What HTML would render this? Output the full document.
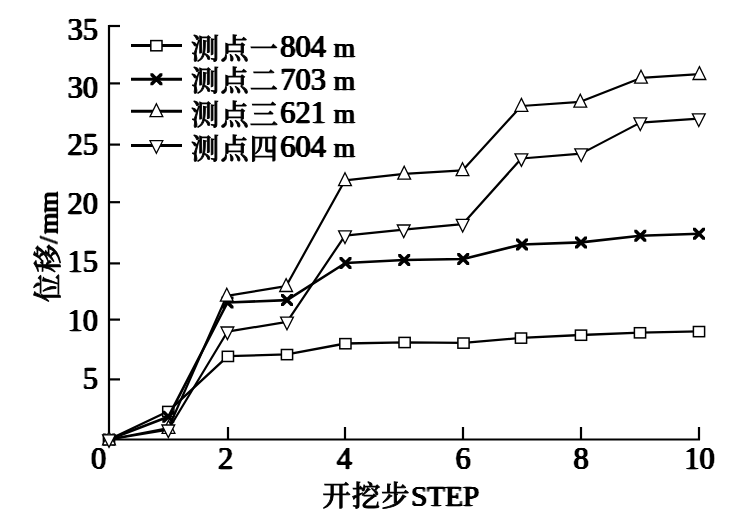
<!DOCTYPE html>
<html lang="zh"><head><meta charset="utf-8"><title>位移-开挖步</title>
<style>
html,body{margin:0;padding:0;background:#fff}
svg{display:block}
text{font-family:"Liberation Serif","Noto Serif CJK SC",serif;font-weight:normal;fill:#000;stroke:#000;stroke-width:0.3px;stroke-linejoin:miter;filter:url(#eb)}
.cj{font-family:"Liberation Serif","Noto Serif CJK SC",serif;font-weight:500;stroke-width:0.9px;filter:none;letter-spacing:1.2px}
</style></head><body>
<svg width="754" height="520" viewBox="0 0 754 520">
<defs><filter id="eb" x="-5%" y="-5%" width="110%" height="110%" color-interpolation-filters="sRGB"><feGaussianBlur in="SourceGraphic" stdDeviation="0.9 0.3"/><feComponentTransfer><feFuncA type="linear" slope="2.6" intercept="-0.35"/></feComponentTransfer></filter></defs>
<rect width="754" height="520" fill="#fff"/>
<g stroke="#000" stroke-width="2.2" fill="none" stroke-linecap="butt">
<path d="M109 25V440.5"/>
<path d="M108 439.5H700"/>
<path d="M109 26H120"/>
<path d="M109 83.4H120"/>
<path d="M109 144.6H120"/>
<path d="M109 202.2H120"/>
<path d="M109 263.4H120"/>
<path d="M109 319.6H120"/>
<path d="M109 379.4H120"/>
<path d="M228 440V427"/>
<path d="M345 440V427"/>
<path d="M463 440V427"/>
<path d="M581 440V427"/>
<path d="M699 440V427"/>
</g>
<text x="98" y="40.4" font-size="30.5" text-anchor="end">35</text>
<text x="98" y="97.5" font-size="30.5" text-anchor="end">30</text>
<text x="98" y="155.4" font-size="30.5" text-anchor="end">25</text>
<text x="98" y="213.8" font-size="30.5" text-anchor="end">20</text>
<text x="98" y="272.3" font-size="30.5" text-anchor="end">15</text>
<text x="98" y="330.8" font-size="30.5" text-anchor="end">10</text>
<text x="98" y="389.2" font-size="30.5" text-anchor="end">5</text>
<text x="98.5" y="468.8" font-size="30.5" text-anchor="middle">0</text>
<text x="225.5" y="468.8" font-size="30.5" text-anchor="middle">2</text>
<text x="344.3" y="468.8" font-size="30.5" text-anchor="middle">4</text>
<text x="463.2" y="468.8" font-size="30.5" text-anchor="middle">6</text>
<text x="581" y="468.8" font-size="30.5" text-anchor="middle">8</text>
<text x="699.5" y="468.8" font-size="30.5" text-anchor="middle">10</text>
<text class="cj" x="322.5" y="506" font-size="28.2">开挖步</text>
<text x="411" y="506" font-size="29.3">STEP</text>
<text class="cj" transform="translate(57.8,302) rotate(-90)" font-size="28.2">位移</text>
<text transform="translate(57.7,243.8) rotate(-90)" font-size="27.5" style="stroke-width:0.4px">/<tspan dx="2">mm</tspan></text>
<polyline fill="none" stroke="#000" stroke-width="2.3" stroke-linejoin="round" points="109,439.5 168.3,411.3 227.9,356.2 287,354.4 345.4,343.5 404.6,342.3 463.5,342.9 521,337.9 581,335 640,332.6 699,331.4"/>
<rect x="103.4" y="434.6" width="11.2" height="10.2" fill="#fff" stroke="#000" stroke-width="1.5"/>
<rect x="162.7" y="406.4" width="11.2" height="10.2" fill="#fff" stroke="#000" stroke-width="1.5"/>
<rect x="222.3" y="351.3" width="11.2" height="10.2" fill="#fff" stroke="#000" stroke-width="1.5"/>
<rect x="281.4" y="349.5" width="11.2" height="10.2" fill="#fff" stroke="#000" stroke-width="1.5"/>
<rect x="339.8" y="338.6" width="11.2" height="10.2" fill="#fff" stroke="#000" stroke-width="1.5"/>
<rect x="399" y="337.4" width="11.2" height="10.2" fill="#fff" stroke="#000" stroke-width="1.5"/>
<rect x="457.9" y="338" width="11.2" height="10.2" fill="#fff" stroke="#000" stroke-width="1.5"/>
<rect x="515.4" y="333" width="11.2" height="10.2" fill="#fff" stroke="#000" stroke-width="1.5"/>
<rect x="575.4" y="330.1" width="11.2" height="10.2" fill="#fff" stroke="#000" stroke-width="1.5"/>
<rect x="634.4" y="327.7" width="11.2" height="10.2" fill="#fff" stroke="#000" stroke-width="1.5"/>
<rect x="693.4" y="326.5" width="11.2" height="10.2" fill="#fff" stroke="#000" stroke-width="1.5"/>
<polyline fill="none" stroke="#000" stroke-width="2.6" stroke-linejoin="round" points="109,439.5 168.3,416.8 227.5,302.5 287,300.1 345.5,263 404.2,260 463.2,259 522,244.5 581,242.4 640.3,235.8 699,233.7"/>
<path d="M103 433.5L105.5 433.5L115 443L115 445.5L112.5 445.5L103 436ZM115 433.5L115 436L105.5 445.5L103 445.5L103 443L112.5 433.5Z" fill="#000"/>
<path d="M162.3 410.8L164.8 410.8L174.3 420.3L174.3 422.8L171.8 422.8L162.3 413.3ZM174.3 410.8L174.3 413.3L164.8 422.8L162.3 422.8L162.3 420.3L171.8 410.8Z" fill="#000"/>
<path d="M221.5 296.5L224 296.5L233.5 306L233.5 308.5L231 308.5L221.5 299ZM233.5 296.5L233.5 299L224 308.5L221.5 308.5L221.5 306L231 296.5Z" fill="#000"/>
<path d="M281 294.1L283.5 294.1L293 303.6L293 306.1L290.5 306.1L281 296.6ZM293 294.1L293 296.6L283.5 306.1L281 306.1L281 303.6L290.5 294.1Z" fill="#000"/>
<path d="M339.5 257L342 257L351.5 266.5L351.5 269L349 269L339.5 259.5ZM351.5 257L351.5 259.5L342 269L339.5 269L339.5 266.5L349 257Z" fill="#000"/>
<path d="M398.2 254L400.7 254L410.2 263.5L410.2 266L407.7 266L398.2 256.5ZM410.2 254L410.2 256.5L400.7 266L398.2 266L398.2 263.5L407.7 254Z" fill="#000"/>
<path d="M457.2 253L459.7 253L469.2 262.5L469.2 265L466.7 265L457.2 255.5ZM469.2 253L469.2 255.5L459.7 265L457.2 265L457.2 262.5L466.7 253Z" fill="#000"/>
<path d="M516 238.5L518.5 238.5L528 248L528 250.5L525.5 250.5L516 241ZM528 238.5L528 241L518.5 250.5L516 250.5L516 248L525.5 238.5Z" fill="#000"/>
<path d="M575 236.4L577.5 236.4L587 245.9L587 248.4L584.5 248.4L575 238.9ZM587 236.4L587 238.9L577.5 248.4L575 248.4L575 245.9L584.5 236.4Z" fill="#000"/>
<path d="M634.3 229.8L636.8 229.8L646.3 239.3L646.3 241.8L643.8 241.8L634.3 232.3ZM646.3 229.8L646.3 232.3L636.8 241.8L634.3 241.8L634.3 239.3L643.8 229.8Z" fill="#000"/>
<path d="M693 227.7L695.5 227.7L705 237.2L705 239.7L702.5 239.7L693 230.2ZM705 227.7L705 230.2L695.5 239.7L693 239.7L693 237.2L702.5 227.7Z" fill="#000"/>
<polyline fill="none" stroke="#000" stroke-width="2.2" stroke-linejoin="round" points="109,439.5 168.5,428 226.8,295.8 286.1,286.2 345,180.3 404.2,173.8 462.5,170.4 521.4,106 580.3,101.8 641,77.9 699.4,74.2"/>
<path d="M109 431.9L115.4 444.8L102.6 444.8Z" fill="#fff" stroke="#000" stroke-width="1.3" stroke-linejoin="miter"/>
<path d="M168.5 420.4L174.9 433.3L162.1 433.3Z" fill="#fff" stroke="#000" stroke-width="1.3" stroke-linejoin="miter"/>
<path d="M226.8 288.2L233.2 301.1L220.4 301.1Z" fill="#fff" stroke="#000" stroke-width="1.3" stroke-linejoin="miter"/>
<path d="M286.1 278.6L292.5 291.5L279.7 291.5Z" fill="#fff" stroke="#000" stroke-width="1.3" stroke-linejoin="miter"/>
<path d="M345 172.7L351.4 185.6L338.6 185.6Z" fill="#fff" stroke="#000" stroke-width="1.3" stroke-linejoin="miter"/>
<path d="M404.2 166.2L410.6 179.1L397.8 179.1Z" fill="#fff" stroke="#000" stroke-width="1.3" stroke-linejoin="miter"/>
<path d="M462.5 162.8L468.9 175.7L456.1 175.7Z" fill="#fff" stroke="#000" stroke-width="1.3" stroke-linejoin="miter"/>
<path d="M521.4 98.4L527.8 111.3L515 111.3Z" fill="#fff" stroke="#000" stroke-width="1.3" stroke-linejoin="miter"/>
<path d="M580.3 94.2L586.7 107.1L573.9 107.1Z" fill="#fff" stroke="#000" stroke-width="1.3" stroke-linejoin="miter"/>
<path d="M641 70.3L647.4 83.2L634.6 83.2Z" fill="#fff" stroke="#000" stroke-width="1.3" stroke-linejoin="miter"/>
<path d="M699.4 66.6L705.8 79.5L693 79.5Z" fill="#fff" stroke="#000" stroke-width="1.3" stroke-linejoin="miter"/>
<polyline fill="none" stroke="#000" stroke-width="2.2" stroke-linejoin="round" points="109,439.5 168.3,429.7 227.4,331.7 287,321.8 345,235.6 403.7,229.7 462.7,224.1 521.4,158.5 581.2,153.6 640.3,122.6 698.8,118.6"/>
<path d="M109 447.4L115.4 434.8L102.6 434.8Z" fill="#fff" stroke="#000" stroke-width="1.3" stroke-linejoin="miter"/>
<path d="M168.3 437.6L174.7 425L161.9 425Z" fill="#fff" stroke="#000" stroke-width="1.3" stroke-linejoin="miter"/>
<path d="M227.4 339.6L233.8 327L221 327Z" fill="#fff" stroke="#000" stroke-width="1.3" stroke-linejoin="miter"/>
<path d="M287 329.7L293.4 317.1L280.6 317.1Z" fill="#fff" stroke="#000" stroke-width="1.3" stroke-linejoin="miter"/>
<path d="M345 243.5L351.4 230.9L338.6 230.9Z" fill="#fff" stroke="#000" stroke-width="1.3" stroke-linejoin="miter"/>
<path d="M403.7 237.6L410.1 225L397.3 225Z" fill="#fff" stroke="#000" stroke-width="1.3" stroke-linejoin="miter"/>
<path d="M462.7 232L469.1 219.4L456.3 219.4Z" fill="#fff" stroke="#000" stroke-width="1.3" stroke-linejoin="miter"/>
<path d="M521.4 166.4L527.8 153.8L515 153.8Z" fill="#fff" stroke="#000" stroke-width="1.3" stroke-linejoin="miter"/>
<path d="M581.2 161.5L587.6 148.9L574.8 148.9Z" fill="#fff" stroke="#000" stroke-width="1.3" stroke-linejoin="miter"/>
<path d="M640.3 130.5L646.7 117.9L633.9 117.9Z" fill="#fff" stroke="#000" stroke-width="1.3" stroke-linejoin="miter"/>
<path d="M698.8 126.5L705.2 113.9L692.4 113.9Z" fill="#fff" stroke="#000" stroke-width="1.3" stroke-linejoin="miter"/>
<path d="M131 45.5H182" stroke="#000" stroke-width="3" fill="none"/>
<rect x="150.8" y="40.6" width="11.2" height="10.2" fill="#fff" stroke="#000" stroke-width="1.5"/>
<text class="cj" x="191" y="58.5" font-size="28.2">测点一</text>
<text x="280.3" y="57.3" font-size="30.5">804<tspan font-size="27.5" dx="7.6">m</tspan></text>
<path d="M131 79.3H182" stroke="#000" stroke-width="3" fill="none"/>
<path d="M150.4 73.3L152.9 73.3L162.4 82.8L162.4 85.3L159.9 85.3L150.4 75.8ZM162.4 73.3L162.4 75.8L152.9 85.3L150.4 85.3L150.4 82.8L159.9 73.3Z" fill="#000"/>
<text class="cj" x="191" y="90.9" font-size="28.2">测点二</text>
<text x="280.3" y="89.7" font-size="30.5">703<tspan font-size="27.5" dx="7.6">m</tspan></text>
<path d="M131 111.3H182" stroke="#000" stroke-width="3" fill="none"/>
<path d="M156.4 103.7L162.8 116.6L150 116.6Z" fill="#fff" stroke="#000" stroke-width="1.3" stroke-linejoin="miter"/>
<text class="cj" x="191" y="124.6" font-size="28.2">测点三</text>
<text x="280.3" y="123.4" font-size="30.5">621<tspan font-size="27.5" dx="7.6">m</tspan></text>
<path d="M131 145.4H182" stroke="#000" stroke-width="3" fill="none"/>
<path d="M156.4 153.3L162.8 140.7L150 140.7Z" fill="#fff" stroke="#000" stroke-width="1.3" stroke-linejoin="miter"/>
<text class="cj" x="191" y="158.6" font-size="28.2">测点四</text>
<text x="280.3" y="157.4" font-size="30.5">604<tspan font-size="27.5" dx="7.6">m</tspan></text>
</svg></body></html>
